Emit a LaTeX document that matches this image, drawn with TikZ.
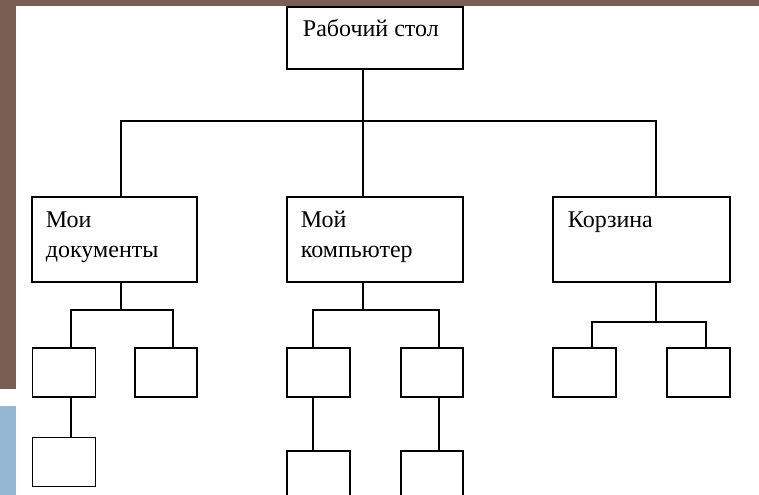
\documentclass[tikz,border=0pt]{standalone}
\usepackage{fontspec}
\setmainfont{Liberation Serif}
\usepackage{tikz}
\definecolor{lbrown}{RGB}{121, 94, 85}
\definecolor{lblue}{RGB}{148, 183, 211}

\begin{document}
\begin{tikzpicture}[x = 1bp, y = -1bp, line width = 1.9bp,
	box/.style = {draw, inner sep = 0pt},
	bigbox/.style = {box, minimum width = 176bp, minimum height = 85bp},
	smallbox/.style = {box, minimum width = 63bp, minimum height = 49bp},
	txt/.style = {anchor = base west, inner sep = 0pt, align = left,
		font = \fontsize{24bp}{30bp}\selectfont}]
			\clip (0,0) rectangle (759,495);
			\fill[white] (0,0) rectangle (759,495);
			\fill[lbrown] (0,0) rectangle (759,6);
			\fill[lbrown] (0,0) rectangle (16,389);
			\fill[lblue] (0,406) rectangle (16,495);
			% top level
			\node (top) at (375,38) [box, minimum width = 176bp, minimum height = 62bp] {};
			\node (toptxt) at (302,37) [txt] {Рабочий стол};
			% second level
			\node (docs) at (114.5,239.5) [bigbox, minimum width = 165bp] {};
			\node (comp) at (375,239.5) [bigbox] {};
			\node (bin) at (641.5,239.5) [bigbox, minimum width = 177bp] {};
			\node (docstxt) at (45,258) [txt] {Мои\\документы};
			\node (comptxt) at (300,258) [txt] {Мой\\компьютер};
			\node (bintxt) at (567,228) [txt] {Корзина};
			% third level
			\node (d1) at (64,372.5) [smallbox] {};
			\node (d2) at (166,372.5) [smallbox, minimum width = 62bp] {};
			\node (d3) at (64,462) [smallbox] {};
			\node (c1) at (318.5,372.5) [smallbox] {};
			\node (c2) at (432,372.5) [smallbox, minimum width = 62bp] {};
			\node (c3) at (318.5,475.5) [smallbox] {};
			\node (c4) at (432,475.5) [smallbox, minimum width = 62bp] {};
			\node (b1) at (584.5,372.5) [smallbox] {};
			\node (b2) at (698.5,372.5) [smallbox] {};
			% junctions
			\coordinate (bus) at (363,121);
			\coordinate (dj) at (121,310);
			\coordinate (cj) at (363,310);
			\coordinate (bj) at (656,322);
			\draw ([xshift = -12bp]top.south) -- ([xshift = -12bp]comp.north);
			\draw ([xshift = 6.5bp]docs.north) |- (bus) -| ([xshift = 14.5bp]bin.north);
			\draw ([xshift = 6.5bp]docs.south) -- (dj);
			\draw ([xshift = 7bp]d1.north) |- (dj) -| ([xshift = 7bp]d2.north);
			\draw ([xshift = 7bp]d1.south) -- ([xshift = 7bp]d3.north);
			\draw ([xshift = -12bp]comp.south) -- (cj);
			\draw ([xshift = -5.5bp]c1.north) |- (cj) -| ([xshift = 7bp]c2.north);
			\draw ([xshift = -5.5bp]c1.south) -- ([xshift = -5.5bp]c3.north);
			\draw ([xshift = 7bp]c2.south) -- ([xshift = 7bp]c4.north);
			\draw ([xshift = 14.5bp]bin.south) -- (bj);
			\draw ([xshift = 7.5bp]b1.north) |- (bj) -| ([xshift = 7.5bp]b2.north);
			\end{tikzpicture}
\end{document}
